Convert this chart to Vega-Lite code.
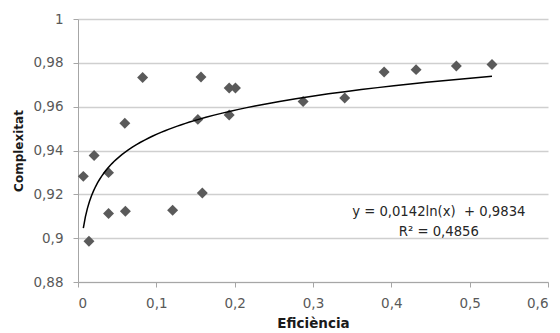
{
  "$schema": "https://vega.github.io/schema/vega-lite/v6.json",
  "width": 470,
  "height": 263,
  "autosize": {"type": "none"},
  "padding": {"left": 78, "top": 19, "right": 12, "bottom": 51},
  "background": "white",
  "config": {
    "view": {"stroke": null},
    "font": "DejaVu Sans",
    "axis": {
      "labelFont": "DejaVu Sans",
      "titleFont": "DejaVu Sans",
      "labelColor": "#595959",
      "labelFontSize": 13.5,
      "titleFontSize": 13.5,
      "titleFontWeight": "bold",
      "titleColor": "#1a1a1a",
      "domainColor": "#a6a6a6",
      "tickColor": "#a6a6a6",
      "gridColor": "#cfcfcf",
      "gridWidth": 1.5,
      "tickSize": 5
    }
  },
  "datasets": {
    "points": [
      {"eficiencia": 0.0068, "complexitat": 0.9282},
      {"eficiencia": 0.014, "complexitat": 0.8986},
      {"eficiencia": 0.0206, "complexitat": 0.9377},
      {"eficiencia": 0.039, "complexitat": 0.9299},
      {"eficiencia": 0.039, "complexitat": 0.9113},
      {"eficiencia": 0.0598, "complexitat": 0.9524},
      {"eficiencia": 0.0605, "complexitat": 0.9123},
      {"eficiencia": 0.0825, "complexitat": 0.9733},
      {"eficiencia": 0.1208, "complexitat": 0.9127},
      {"eficiencia": 0.153, "complexitat": 0.9542},
      {"eficiencia": 0.157, "complexitat": 0.9735},
      {"eficiencia": 0.1587, "complexitat": 0.9206},
      {"eficiencia": 0.193, "complexitat": 0.9685},
      {"eficiencia": 0.193, "complexitat": 0.9562},
      {"eficiencia": 0.201, "complexitat": 0.9685},
      {"eficiencia": 0.2874, "complexitat": 0.9624},
      {"eficiencia": 0.3405, "complexitat": 0.964},
      {"eficiencia": 0.3908, "complexitat": 0.9758},
      {"eficiencia": 0.4316, "complexitat": 0.9769},
      {"eficiencia": 0.483, "complexitat": 0.9786},
      {"eficiencia": 0.5285, "complexitat": 0.9792}
    ],
    "labels": [
      {"eficiencia": 0.4606, "complexitat": 0.9119, "text": "y = 0,0142ln(x)\u00a0 + 0,9834"},
      {"eficiencia": 0.4606, "complexitat": 0.9028, "text": "R² = 0,4856"}
    ]
  },
  "encoding": {
    "x": {
      "field": "eficiencia",
      "type": "quantitative",
      "scale": {"domain": [0, 0.6], "nice": false, "zero": false},
      "axis": {
        "title": "Eficiència",
        "values": [0, 0.1, 0.2, 0.3, 0.4, 0.5, 0.6],
        "labelExpr": "replace(format(datum.value, '~g'), '.', ',')",
        "grid": false,
        "labelPadding": 9,
        "titlePadding": 7
      }
    },
    "y": {
      "field": "complexitat",
      "type": "quantitative",
      "scale": {"domain": [0.88, 1], "nice": false, "zero": false},
      "axis": {
        "title": "Complexitat",
        "titleFontSize": 12,
        "values": [0.88, 0.9, 0.92, 0.94, 0.96, 0.98, 1],
        "labelExpr": "replace(format(datum.value, '~g'), '.', ',')",
        "grid": true,
        "labelPadding": 10,
        "titlePadding": 7
      }
    }
  },
  "layer": [
    {
      "data": {"name": "points"},
      "mark": {"type": "point", "shape": "diamond", "filled": true, "size": 120, "color": "#5a5a5a", "opacity": 1}
    },
    {
      "data": {"name": "points"},
      "transform": [
        {"regression": "complexitat", "on": "eficiencia", "method": "log"}
      ],
      "mark": {"type": "line", "color": "#000000", "strokeWidth": 1.5}
    },
    {
      "data": {"name": "labels"},
      "mark": {"type": "text", "font": "DejaVu Sans", "fontSize": 13.2, "color": "#262626", "align": "center", "baseline": "middle"},
      "encoding": {"text": {"field": "text"}}
    }
  ]
}
